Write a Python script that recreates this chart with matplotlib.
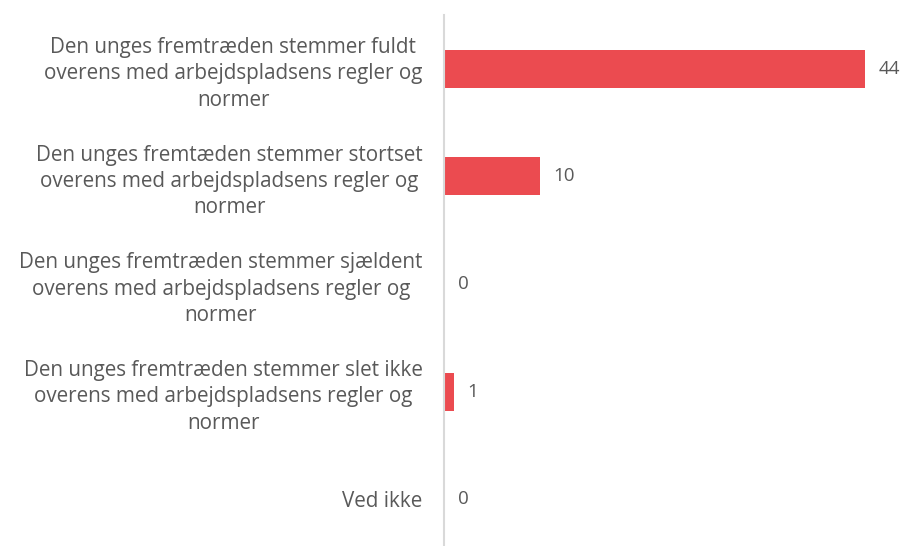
# Horizontal bar chart - workplace conduct survey
import matplotlib.pyplot as plt

categories = [
    "Den unges fremtræden stemmer fuldt\noverens med arbejdspladsens regler og\nnormer",
    "Den unges fremtæden stemmer stortset\noverens med arbejdspladsens regler og\nnormer",
    "Den unges fremtræden stemmer sjældent\noverens med arbejdspladsens regler og\nnormer",
    "Den unges fremtræden stemmer slet ikke\noverens med arbejdspladsens regler og\nnormer",
    "Ved ikke",
]
values = [44, 10, 0, 1, 0]

bar_color = "#EB4B50"
text_color = "#595959"

plt.rcParams["font.family"] = ["Open Sans", "DejaVu Sans"]

fig = plt.figure(figsize=(9.09, 5.46), dpi=100)
ax = fig.add_axes([444 / 909, -7 / 546, 459 / 909, 538 / 546])

pos = list(range(len(values)))
ax.barh(pos, values, height=0.355, color=bar_color)
ax.set_ylim(len(values) - 0.5, -0.5)
ax.set_xlim(0, 48)

for p, v in zip(pos, values):
    ax.annotate(str(v), (v, p), xytext=(10, 0), textcoords="offset points",
                ha="left", va="center", fontsize=13.5, color=text_color)

ax.set_yticks(pos)
ax.set_yticklabels(categories, fontsize=14.9, color=text_color,
                   multialignment="center", linespacing=1.33)
ax.tick_params(axis="y", length=0, pad=15.5)
ax.set_xticks([])

for s in ["top", "right", "bottom"]:
    ax.spines[s].set_visible(False)
ax.spines["left"].set_color("#D9D9D9")
ax.spines["left"].set_linewidth(1.5)

fig.savefig("out.png", dpi=100)
